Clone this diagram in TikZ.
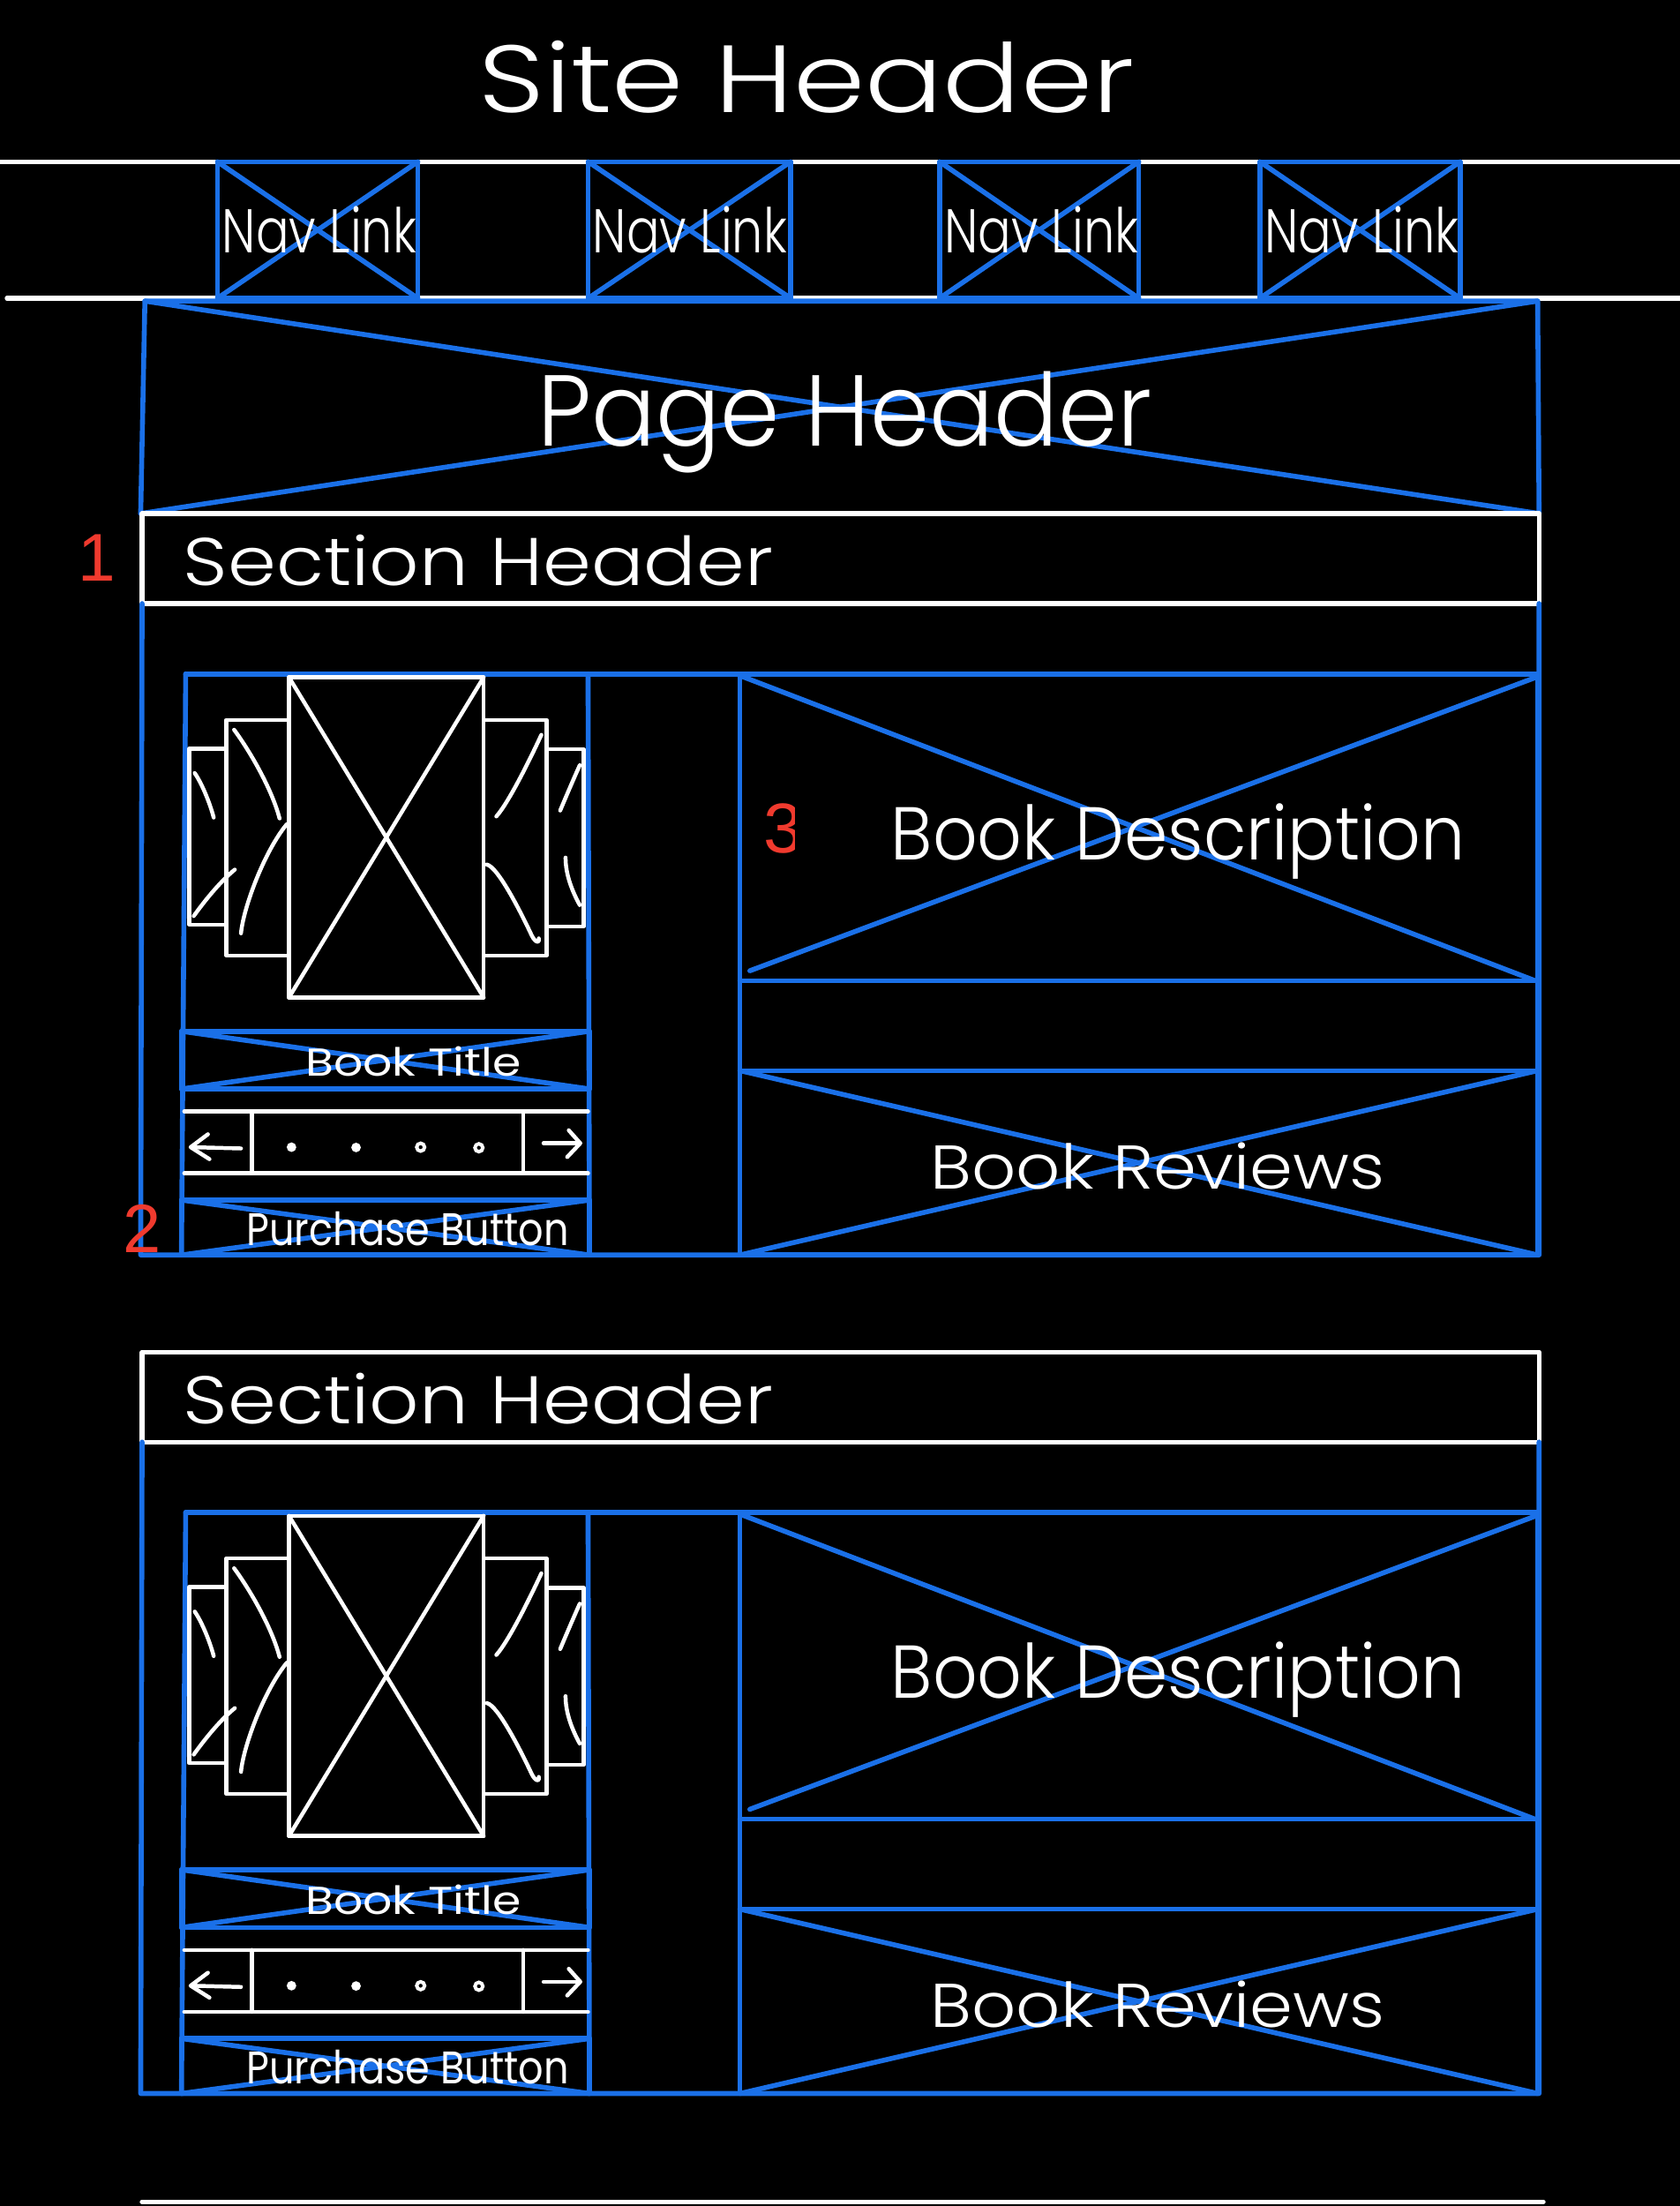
\documentclass[tikz,border=0pt]{standalone}
\usepackage{fontspec}
\usepackage{graphicx}
\IfFontExistsTF{Poppins Light}{\newfontfamily\hand{Poppins Light}}{\newfontfamily\hand{Poppins}}
\newfontfamily\handb{Poppins}
\newfontfamily\numfont{Liberation Sans}
\definecolor{wfblue}{RGB}{26,112,232}
\definecolor{wfred}{RGB}{240,58,46}
\newdimen\px \px=0.02cm
\newcommand{\hw}[3]{\resizebox{#1\px}{#2\px}{\hand #3}}
\newcommand{\hwb}[3]{\resizebox{#1\px}{#2\px}{\handb #3}}
\newcommand{\numh}[2]{\resizebox{!}{#1\px}{\numfont #2}}
\tikzset{
  bl/.style={draw=wfblue, line width=2pt, line cap=round, line join=round},
  wl/.style={draw=white, line width=1.9pt, line cap=round, line join=round},
  wt/.style={draw=white, line width=1.6pt, line cap=round, line join=round},
  lbl/.style={text=white, inner sep=0pt, anchor=base west},
  num/.style={text=wfred, inner sep=0pt, anchor=base west},
}
\newcommand{\xbox}[4]{%
  \draw[bl] (#1,#2) rectangle (#3,#4);
  \draw[bl] (#1,#2) -- (#3,#4);
  \draw[bl] (#1,#4) -- (#3,#2);
}
\begin{document}
\begin{tikzpicture}[x=0.02cm, y=-0.02cm]
\fill[black] (0,0) rectangle (1194,1568);
\useasboundingbox (0,0) rectangle (1194,1568);

% site header
\node[lbl] (siteh) at (340,80) {\hw{466}{51}{Site Header}};
\draw[wl] (0,115) -- (1194,115);
\draw[wl] (5,212) -- (1194,212);

% nav links
\foreach \a/\b [count=\i] in {154.6/297, 418.1/562, 667.9/809.5, 895.6/1037.9}{
  \xbox{\a}{115}{\b}{212}
  \node[lbl] (nav\i) at (\a+3,180) {\hw{138}{33}{Nav Link}};
}

% page header
\draw[bl] (103,214) -- (1093,214) -- (1094,365) -- (100,365) -- cycle;
\draw[bl] (103,214) -- (1094,365);
\draw[bl] (100,365) -- (1093,214);
\node[lbl] (pageh) at (381.7,317) {\hw{437}{53}{Page Header}};

% sections
\foreach \o in {0,596}{
\begin{scope}[shift={(0,\o)}]
  \draw[wl] (101,365) rectangle (1094,429);
  \node[lbl] (sech\o) at (130,416) {\hw{419}{36}{Section Header}};
  % outer blue frame
  \draw[bl] (101,429) -- (100,892) -- (1094,892) -- (1094,429);
  \draw[bl] (132,479) -- (1093,479);
  % left column
  \draw[bl] (132,479) -- (129,892);
  \draw[bl] (418,479) -- (419,892);
  % carousel images
  \draw[wt] (134.4,532.1) rectangle (160.8,657.2);
  \draw[wt] (160.8,511.7) rectangle (205.4,679.1);
  \draw[wt] (388.6,532.6) rectangle (414.8,658.5);
  \draw[wt] (343.8,511.7) rectangle (388.6,679.1);
  \draw[wt] (205.4,481.4) rectangle (343.8,709);
  \draw[wt] (205.4,481.4) -- (343.8,709);
  \draw[wt] (205.4,709) -- (343.8,481.4);
  \draw[wt] (138.4,549.5) .. controls (143,556) and (149,570) .. (151.9,581.1);
  \draw[wt] (137.7,651.1) .. controls (145,641) and (156,627) .. (166.9,618.1);
  \draw[wt] (166.4,518.7) .. controls (177,533) and (193,560) .. (198.7,581.7);
  \draw[wt] (171.3,663.4) .. controls (173,645) and (188,605) .. (203.8,585.9);
  \draw[wt] (384.8,522.3) .. controls (378,537) and (362,570) .. (352.8,580.3);
  \draw[wt] (346,614.5) .. controls (354,616) and (371,650) .. (378,665) .. controls (381,671) and (384,670) .. (383,667);
  \draw[wt] (412.1,543.9) .. controls (408,553) and (402,567) .. (398.2,576.1);
  \draw[wt] (402,609.6) .. controls (402,622) and (407,634) .. (412.1,643.3);
  % book title
  \xbox{129}{733}{419}{774}
  \node[lbl] (title\o) at (217,765) {\hwb{153}{21}{Book Title}};
  % carousel nav
  \draw[wt] (131,790) -- (418,790);
  \draw[wt] (131,834) -- (418,834);
  \draw[wt] (179,790) -- (179,834);
  \draw[wt] (372,790) -- (372,834);
  \draw[wt] (171.3,816.3) -- (136.6,815.4);
  \draw[wt] (147.8,806.2) -- (135.5,815.4) -- (148.9,823.9);
  \draw[wt] (386.4,812.6) -- (412.1,812.6);
  \draw[wt] (404.3,803.4) -- (412.5,812.6) -- (403.2,822.4);
  \fill[white] (207.2,815.4) circle (3.4);
  \fill[white] (253.1,815.6) circle (3.4);
  \draw[white, line width=1.4pt] (299,815.4) circle (2.8);
  \draw[white, line width=1.4pt] (340.4,815.8) circle (2.8);
  % purchase button
  \xbox{129}{853}{419}{892}
  \node[lbl] (buy\o) at (175,885) {\hwb{229}{24}{Purchase Button}};
  % right column
  \draw[bl] (526,479) rectangle (1093,892);
  \draw[bl] (526,697) -- (1093,697);
  \draw[bl] (526,761) -- (1093,761);
  \draw[bl] (528,481) -- (1091,697);
  \draw[bl] (533,690) -- (1093,481);
  \draw[bl] (526,761) -- (1093,892);
  \draw[bl] (526,892) -- (1093,761);
  \node[lbl] (desc\o) at (633,611) {\hw{408}{40}{Book Description}};
  \node[lbl] (rev\o) at (661,845) {\hw{323}{33}{Book Reviews}};
\end{scope}
}

% red numbers
\node[num] (n1) at (55,413) {\numh{33}{1}};
\node[num] (n2) at (87,890) {\numh{34}{2}};
\begin{scope}
  \clip (540,560) rectangle (564.5,620);
  \node[num] (n3) at (542.5,606) {\numh{35}{3}};
\end{scope}

% bottom line
\draw[wl] (101,1565) -- (1097,1565);
\end{tikzpicture}
\end{document}
